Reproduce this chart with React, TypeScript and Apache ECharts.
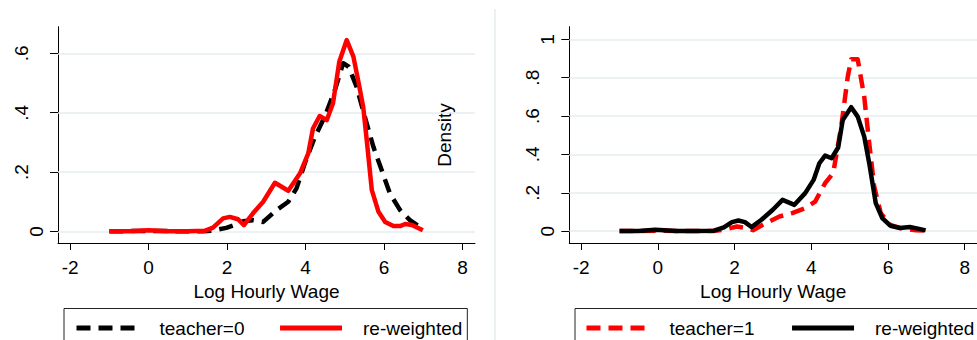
import React, { useEffect, useRef } from 'react';
import * as echarts from 'echarts';

const xTicks = [-2, 0, 2, 4, 6, 8];
const yTicksLeft = [0, 0.2, 0.4, 0.6];
const yTicksRight = [0, 0.2, 0.4, 0.6, 0.8, 1];
const yWholeLabelsLeft = [0];
const yDecimalLabelsLeft = [0.2, 0.4, 0.6];
const yWholeLabelsRight = [0, 1];
const yDecimalLabelsRight = [0.2, 0.4, 0.6, 0.8];

const xTitle = 'Log Hourly Wage';
const yTitle = 'Density';

// Left panel: teacher=0 (dashed black) and re-weighted (solid red)
const t0X = [-1, -0.5, 0, 0.5, 1, 1.4, 1.64, 1.98, 2.2, 2.41, 2.66, 2.92, 3.26, 3.56, 3.77, 3.98, 4.24, 4.49, 4.75, 4.96, 5.1, 5.3, 5.51, 5.73, 5.94, 6.15, 6.41, 6.66, 6.9, 7.0];
const t0Y = [0.001, 0.001, 0.002, 0.001, 0.001, 0.001, 0.003, 0.012, 0.022, 0.034, 0.038, 0.032, 0.072, 0.10, 0.145, 0.229, 0.319, 0.387, 0.477, 0.567, 0.555, 0.488, 0.387, 0.285, 0.207, 0.128, 0.072, 0.038, 0.016, 0.008];

const rw0X = [-1, -0.5, 0, 0.5, 1, 1.43, 1.64, 1.9, 2.07, 2.28, 2.43, 2.66, 2.92, 3.22, 3.56, 3.86, 4.07, 4.19, 4.36, 4.54, 4.7, 4.86, 5.05, 5.22, 5.34, 5.47, 5.56, 5.69, 5.86, 6.03, 6.24, 6.41, 6.54, 6.71, 6.99];
const rw0Y = [0.001, 0.001, 0.004, 0.001, 0.001, 0.002, 0.013, 0.044, 0.049, 0.041, 0.021, 0.061, 0.10, 0.164, 0.137, 0.196, 0.263, 0.347, 0.389, 0.375, 0.432, 0.572, 0.645, 0.589, 0.51, 0.42, 0.308, 0.139, 0.066, 0.032, 0.018, 0.018, 0.025, 0.022, 0.004];

// Right panel: teacher=1 (dashed red) and re-weighted (solid black)
const t1X = [-1, -0.5, 0, 0.5, 1, 1.45, 1.72, 2.06, 2.3, 2.48, 2.82, 3.17, 3.5, 3.84, 4.1, 4.36, 4.57, 4.78, 4.95, 5.04, 5.21, 5.38, 5.51, 5.64, 5.81, 6.06, 6.39, 6.73, 6.95];
const t1Y = [0.001, 0.001, 0.002, 0.001, 0.001, 0.001, 0.007, 0.024, 0.016, 0.005, 0.042, 0.076, 0.094, 0.12, 0.154, 0.25, 0.302, 0.545, 0.805, 0.896, 0.896, 0.70, 0.458, 0.232, 0.094, 0.033, 0.012, 0.005, 0.003];

const rw1X = [-1, -0.5, -0.07, 0.5, 1, 1.46, 1.72, 1.93, 2.1, 2.27, 2.44, 2.7, 2.99, 3.25, 3.56, 3.84, 4.06, 4.21, 4.36, 4.53, 4.7, 4.82, 5.04, 5.21, 5.38, 5.51, 5.68, 5.85, 6.06, 6.31, 6.57, 6.78, 6.98];
const rw1Y = [0.001, 0.001, 0.007, 0.001, 0.001, 0.002, 0.019, 0.047, 0.055, 0.047, 0.021, 0.059, 0.11, 0.163, 0.137, 0.198, 0.267, 0.354, 0.394, 0.38, 0.436, 0.58, 0.646, 0.597, 0.493, 0.354, 0.146, 0.068, 0.028, 0.016, 0.021, 0.013, 0.004];

const names = {
  t0: 'teacher=0',
  rw0: 're-weighted',
  t1: 'teacher=1',
  rw1: 're-weighted (teacher=1)',
};

const FONT = "'Liberation Sans', Arial, Helvetica, sans-serif";
const RED = '#ff0000';
const BLACK = '#000000';
const GRIDLINE = '#e6eef1';
const LINE_W = 4.5;

const zip = (xs: number[], ys: number[]) => xs.map((x, i) => [x, ys[i]]);
const fmtY = (v: number) => {
  if (Math.abs(v) < 1e-9) return '0';
  if (Math.abs(v - 1) < 1e-9) return '1';
  return String(+v.toFixed(1)).replace(/^0\./, '.');
};

function makeXAxis(gridIndex: number) {
  return {
    type: 'value',
    gridIndex,
    min: -2.31,
    max: 8.32,
    axisLine: { show: true, onZero: false, lineStyle: { color: BLACK, width: 1 } },
    axisTick: { show: true, customValues: xTicks, length: 7, lineStyle: { color: BLACK } },
    axisLabel: { customValues: xTicks, fontSize: 19, color: BLACK, fontFamily: FONT, margin: 15 },
    splitLine: { show: false },
    name: xTitle,
    nameLocation: 'middle',
    nameGap: 34,
    nameTextStyle: { fontSize: 19, color: BLACK, fontFamily: FONT },
  };
}

// main y axis: line, ticks and whole-number labels
function makeYAxis(gridIndex: number, min: number, max: number, ticks: number[], labels: number[]) {
  return {
    type: 'value',
    gridIndex,
    min,
    max,
    position: 'left',
    axisLine: { show: true, onZero: false, lineStyle: { color: BLACK, width: 1 } },
    axisTick: { show: true, customValues: ticks, length: 8, lineStyle: { color: BLACK } },
    axisLabel: {
      customValues: labels,
      rotate: 90,
      fontSize: 19,
      color: BLACK,
      fontFamily: FONT,
      margin: 12,
      formatter: (v: number) => fmtY(v),
    },
    splitLine: { show: false },
  };
}

// overlay y axis carrying the decimal labels (set further from the axis, as in the original)
function makeYAxisDecimals(gridIndex: number, min: number, max: number, labels: number[]) {
  return {
    type: 'value',
    gridIndex,
    min,
    max,
    position: 'left',
    offset: 0,
    axisLine: { show: false },
    axisTick: { show: false },
    axisLabel: {
      customValues: labels,
      rotate: 90,
      fontSize: 19,
      color: BLACK,
      fontFamily: FONT,
      margin: 27,
      formatter: (v: number) => fmtY(v),
    },
    splitLine: { show: false },
  };
}

function gridMarkLine(ticks: number[]) {
  return {
    silent: true,
    symbol: ['none', 'none'],
    z: 1,
    label: { show: false },
    lineStyle: { color: GRIDLINE, type: 'solid', width: 1.5 },
    emphasis: { disabled: true },
    data: ticks.map((v) => ({ yAxis: v })),
  };
}

function lineSeries(name: string, data: number[][], xIdx: number, yIdx: number, color: string, dashed: boolean, ticks?: number[]) {
  const s: any = {
    type: 'line',
    name,
    xAxisIndex: xIdx,
    yAxisIndex: yIdx,
    data,
    symbol: 'none',
    smooth: false,
    z: 3,
    lineStyle: {
      color,
      width: LINE_W,
      type: dashed ? [14, 8] : 'solid',
      cap: 'butt',
      join: 'round',
    },
    itemStyle: { color },
    emphasis: { disabled: true },
  };
  if (ticks) s.markLine = gridMarkLine(ticks);
  return s;
}

function legendBox(left: number, data: string[], itemGap: number, padLeft: number) {
  return {
    left,
    top: 308.5,
    width: 600,
    orient: 'horizontal',
    data,
    selectedMode: false,
    itemWidth: 62,
    itemHeight: 20,
    itemGap,
    borderColor: '#222',
    borderWidth: 1,
    padding: [9.5, 5, 20, padLeft],
    backgroundColor: '#fff',
    lineStyle: { width: 5 },
    itemStyle: { color: 'transparent', borderColor: 'transparent', borderWidth: 0, opacity: 0 },
    formatter: (n: string) => (n === names.rw1 ? names.rw0 : n),
    textStyle: {
      fontSize: 19,
      color: BLACK,
      fontFamily: FONT,
      lineHeight: 20,
      padding: [0, 0, 0, 16],
    },
  };
}

export default function App() {
  const ref = useRef<HTMLDivElement>(null);

  useEffect(() => {
    if (!ref.current) return;
    const chart = echarts.init(ref.current, undefined, { renderer: 'svg' });
    const option: any = {
      animation: false,
      backgroundColor: '#ffffff',
      textStyle: { fontFamily: FONT },
      grid: [
        { left: 58, top: 26.7, width: 417, height: 216.3, containLabel: false },
        { left: 569.3, top: 26.7, width: 416.3, height: 216.3, containLabel: false },
      ],
      xAxis: [makeXAxis(0), makeXAxis(1)],
      yAxis: [
        makeYAxis(0, -0.039, 0.69, yTicksLeft, yWholeLabelsLeft),
        makeYAxis(1, -0.062, 1.066, yTicksRight, yWholeLabelsRight),
        makeYAxisDecimals(0, -0.039, 0.69, yDecimalLabelsLeft),
        makeYAxisDecimals(1, -0.062, 1.066, yDecimalLabelsRight),
      ],
      legend: [
        legendBox(64, [names.t0, names.rw0], 33, 10),
        legendBox(575, [names.t1, names.rw1], 35, 9),
      ],
      graphic: [
        {
          type: 'line',
          silent: true,
          shape: { x1: 495, y1: 9, x2: 495, y2: 340 },
          style: { stroke: '#e4ebef', lineWidth: 1.5 },
        },
        {
          type: 'text',
          silent: true,
          x: 444,
          y: 135,
          rotation: Math.PI / 2,
          style: {
            text: yTitle,
            fontSize: 19,
            fontFamily: FONT,
            fill: BLACK,
            align: 'center',
            verticalAlign: 'middle',
          },
        },
      ],
      series: [
        lineSeries(names.t0, zip(t0X, t0Y), 0, 0, BLACK, true, yTicksLeft),
        lineSeries(names.rw0, zip(rw0X, rw0Y), 0, 0, RED, false),
        lineSeries(names.t1, zip(t1X, t1Y), 1, 1, RED, true, yTicksRight),
        lineSeries(names.rw1, zip(rw1X, rw1Y), 1, 1, BLACK, false),
      ],
    };
    chart.setOption(option);
    return () => chart.dispose();
  }, []);

  return (
    <div
      ref={ref}
      style={{ position: 'absolute', left: 0, top: 0, width: 977, height: 340, overflow: 'hidden' }}
    />
  );
}
